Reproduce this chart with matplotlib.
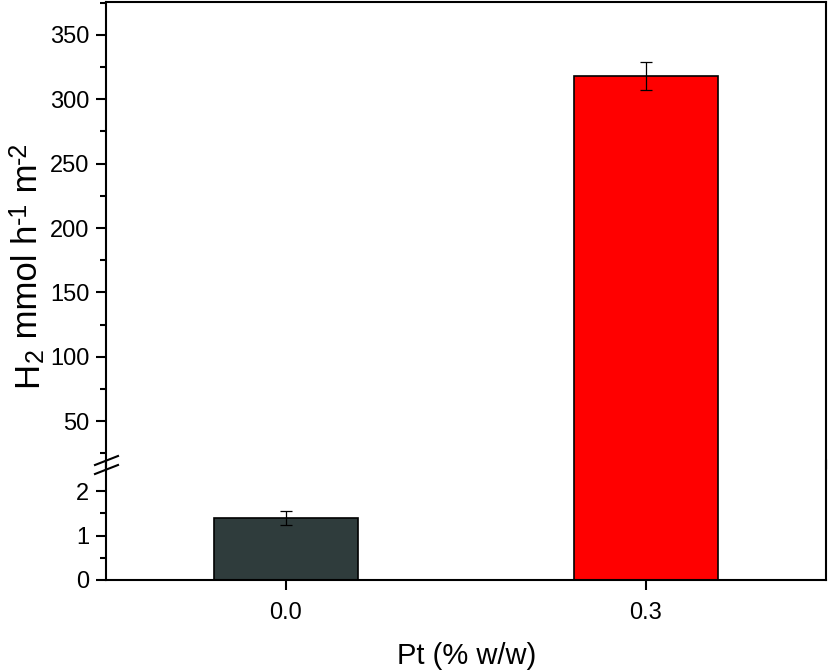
import matplotlib
matplotlib.use("Agg")
import matplotlib.pyplot as plt
from matplotlib.lines import Line2D

plt.rcParams['font.family'] = ['Liberation Sans', 'DejaVu Sans']

categories = ["0.0", "0.3"]
values = [1.39, 318.0]
errors = [0.15, 11.0]
colors = ["#2f3c3c", "#ff0000"]

W, H = 829, 672
fig = plt.figure(figsize=(W / 100, H / 100), dpi=100)

L, R = 106, 826
low_top, low_bot = 460, 580
high_top, high_bot = 2, 469

def fx(px):
    return px / W

def fy(py):
    return 1 - py / H

ax_low = fig.add_axes([fx(L), fy(low_bot), fx(R - L), (low_bot - low_top) / H])
ax_high = fig.add_axes([fx(L), fy(high_bot), fx(R - L), (high_bot - high_top) / H])

x = list(range(len(categories)))
lw = 1.5
tick_fs = 17
for ax in (ax_low, ax_high):
    ax.bar(x, values, width=0.4, color=colors, edgecolor="black", linewidth=1.2,
           yerr=errors, capsize=4.5, error_kw=dict(elinewidth=0.9, capthick=0.9, ecolor="black"))
    ax.set_xlim(-0.5, 1.5)
    for s in ax.spines.values():
        s.set_linewidth(lw)
    ax.tick_params(axis='y', which='major', direction='out', length=7, width=lw, labelsize=tick_fs, pad=5)
    ax.tick_params(axis='y', which='minor', direction='out', length=4, width=lw)

ax_low.set_ylim(0, (low_bot - low_top) / 44.5)
ax_low.set_yticks([0, 1, 2])
ax_low.set_yticks([0.5, 1.5], minor=True)
ax_low.spines['top'].set_visible(False)
ax_low.set_xticks(x)
ax_low.set_xticklabels(categories)
ax_low.tick_params(axis='x', direction='out', length=7, width=lw, labelsize=tick_fs, pad=9)

ax_high.set_ylim(50 - (high_bot - 421) / 1.287, 350 + (35 - high_top) / 1.287)
ax_high.set_yticks([50, 100, 150, 200, 250, 300, 350])
ax_high.set_yticks([25, 75, 125, 175, 225, 275, 325, 375], minor=True)
ax_high.spines['bottom'].set_visible(False)
ax_high.set_xticks([])

# continuous spines through the break
for px in (L, R):
    fig.add_artist(Line2D([fx(px), fx(px)], [fy(low_top) - 0.001, fy(high_bot) + 0.001],
                          color="black", linewidth=lw, transform=fig.transFigure))
# break marks
for cy in (460.5, 469.5):
    fig.add_artist(Line2D([fx(95), fx(118)], [fy(cy + 4.5), fy(cy - 4.5)],
                          color="black", linewidth=lw, transform=fig.transFigure))

# y label composed piecewise: (text, fontsize, baseline shift px toward top of glyphs)
big, small = 25, 18
pieces = [("H", big, 0), ("2", small, -6), (" mmol h", big, 0), ("-1", small, 11),
          (" m", big, 0), ("-2", small, 11)]
renderer = fig.canvas.get_renderer()
base_x = 37          # baseline x in pixels
y_start, y_end = 398, 130
texts = []
for s, fs, sh in pieces:
    t = fig.text(0, 0, s, fontsize=fs, rotation=90, rotation_mode='anchor',
                 ha='left', va='baseline')
    texts.append((t, sh))
lengths = []
for t, sh in texts:
    w, _, _ = renderer.get_text_width_height_descent(t.get_text(), t.get_fontproperties(), ismath=False)
    lengths.append(w)
total = sum(lengths)
cur = (y_start + y_end) / 2 + total / 2
for (t, sh), ln in zip(texts, lengths):
    t.set_position((fx(base_x - sh), fy(cur)))
    cur -= ln

fig.text(fx(467), fy(656), "Pt (% w/w)", ha="center", va="center", fontsize=21)

fig.savefig("out.png", dpi=100)
